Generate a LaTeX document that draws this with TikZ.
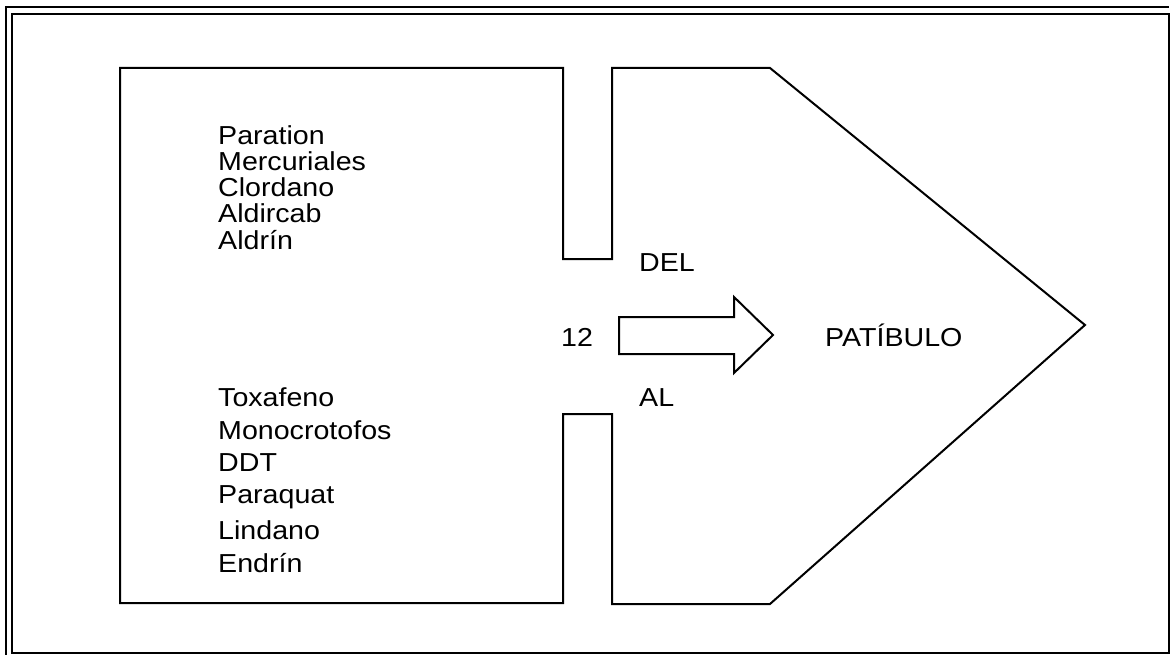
\documentclass[tikz,border=0pt]{standalone}
\usepackage{fontspec}
\setmainfont{Liberation Sans}[FakeStretch=1.1]
\begin{document}
\begin{tikzpicture}[x=1pt,y=-1pt,
  line join=miter,
  shapeline/.style={draw=black,line width=2pt},
  framel/.style={draw=black,line width=2pt},
  lbl/.style={font=\fontsize{26}{27}\selectfont,inner sep=0pt},
  listlbl/.style={lbl,anchor=west}]
\useasboundingbox (0,0) rectangle (1175,655);
% outer frame (double on top and left)
\draw[framel] (12,14) rectangle (1169,653);
\draw[framel] (6,655) -- (6,7) -- (1169,7);
% main outline with the gap
\draw[shapeline] (120,68) -- (563,68) -- (563,259) -- (612,259) -- (612,68)
  -- (770,68) -- (1085,325) -- (770,604) -- (612,604) -- (612,414)
  -- (563,414) -- (563,603) -- (120,603) -- cycle;
% arrow
\draw[shapeline] (619,317) -- (734,317) -- (734,297) -- (773,335) -- (734,373)
  -- (734,354) -- (619,354) -- cycle;
% upper list
\node[listlbl] (p1) at (218,135) {Paration};
\node[listlbl] (p2) at (218,161) {Mercuriales};
\node[listlbl] (p3) at (218,187) {Clordano};
\node[listlbl] (p4) at (218,213) {Aldircab};
\node[listlbl] (p5) at (218,240) {Aldrín};
% lower list
\node[listlbl] (q1) at (218,397) {Toxafeno};
\node[listlbl] (q2) at (218,430) {Monocrotofos};
\node[listlbl] (q3) at (218,463) {DDT};
\node[listlbl] (q4) at (218,497) {Paraquat};
\node[listlbl] (q5) at (218,530) {Lindano};
\node[listlbl] (q6) at (218,563) {Endrín};
% labels
\node[lbl,anchor=west] (del) at (639,263) {DEL};
\node[lbl,anchor=west] (al) at (639,398) {AL};
\node[lbl] (twelve) at (577,337) {12};
\node[lbl,anchor=west] (pat) at (825,335) {PATÍBULO};
\end{tikzpicture}
\end{document}
